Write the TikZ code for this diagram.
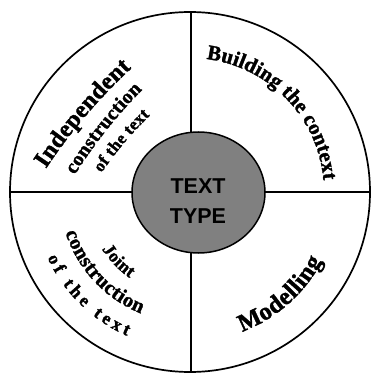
\documentclass[tikz,border=0pt]{standalone}
\usepackage{fontspec}
\newfontfamily\lserif{Liberation Serif}[BoldFeatures={FakeBold=1.5}]
\newfontfamily\lsans{Liberation Sans}
\usetikzlibrary{decorations.text,shapes.geometric}
\definecolor{hubgray}{RGB}{128,128,128}
\tikzset{
  rim/.style={line width=1.7pt},
  spoke/.style={line width=1.3pt},
  hubstyle/.style={ellipse, draw, line width=1.5pt, fill=hubgray, minimum width=133pt, minimum height=121pt, inner sep=0pt},
  hubtext/.style={font=\lsans\bfseries\fontsize{21.5}{25}\selectfont, inner sep=0pt},
  arctext/.style 2 args={decorate, decoration={text along path, text align={fit to path}, text={|\lserif\bfseries\fontsize{#1}{#1}\selectfont|#2}}},
}
\begin{document}
\begin{tikzpicture}[x=1pt,y=1pt]
\useasboundingbox (-190,-182) rectangle (181,192);
\fill[white] (-190,-182) rectangle (181,192);
\coordinate (c) at (0,0);
\coordinate (n) at (1,180);
\coordinate (s) at (1,-180);
\coordinate (w) at (-180,0);
\coordinate (e) at (180,0);
\draw[rim] (c) circle[radius=180pt];
\draw[spoke] (n) -- (s);
\draw[spoke] (w) -- (e);
\node[hubstyle] (hub) at (8.5,-0.5) {};
\node[hubtext] (t1) at (8,6) {TEXT};
\node[hubtext] (t2) at (8,-24) {TYPE};
% top right
\path[arctext={21}{Building the context}] (83:134pt) arc[start angle=83, end angle=5, radius=134pt];
% bottom right
\path[arctext={24.5}{Modelling}] (290.5:149pt) arc[start angle=290.5, end angle=332.5, radius=149pt];
% bottom left
\path[arctext={18}{Joint}] (213:105pt) arc[start angle=213, end angle=235, radius=105pt];
\path[arctext={20.5}{construction}] (198:131pt) arc[start angle=198, end angle=248, radius=131pt];
\path[arctext={18}{of the text}] (204.7:157pt) arc[start angle=204.7, end angle=246.4, radius=157pt];
% top left
\path[arctext={24}{Independent}] (-144.1,23.2) .. controls (-119.63,60.2) and (-91.1,93.73) .. (-58.5,123.8);
\path[arctext={20}{construction}] (-115.3,17) .. controls (-95.87,47.9) and (-73.3,76.33) .. (-47.6,102.3);
\path[arctext={17}{of the text}] (-88.5,19) .. controls (-74.7,39.53) and (-58.87,58.33) .. (-40,76.6);
\end{tikzpicture}
\end{document}
